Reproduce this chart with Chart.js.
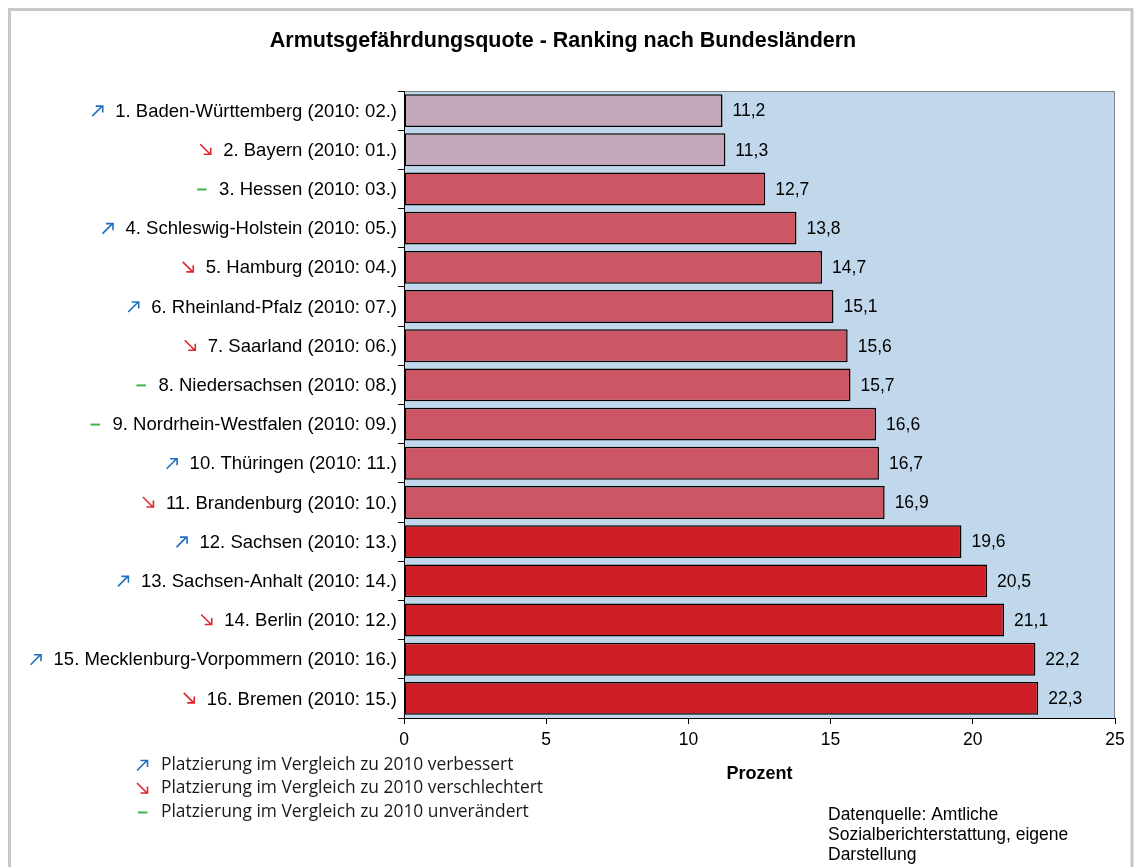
<!DOCTYPE html>
<html lang="de">
<head>
<meta charset="utf-8">
<title>Armutsgefährdungsquote - Ranking nach Bundesländern</title>
<script src="https://cdn.jsdelivr.net/npm/chart.js@4.4.1/dist/chart.umd.min.js"></script>
<style>
  html, body { margin: 0; padding: 0; background: #ffffff; }
  canvas { display: block; }
</style>
</head>
<body>
<canvas id="armutChart" width="1136" height="867"></canvas>
<script>
// Daten
const laender = [
  '1. Baden-Württemberg (2010: 02.)',
  '2. Bayern (2010: 01.)',
  '3. Hessen (2010: 03.)',
  '4. Schleswig-Holstein (2010: 05.)',
  '5. Hamburg (2010: 04.)',
  '6. Rheinland-Pfalz (2010: 07.)',
  '7. Saarland (2010: 06.)',
  '8. Niedersachsen (2010: 08.)',
  '9. Nordrhein-Westfalen (2010: 09.)',
  '10. Thüringen (2010: 11.)',
  '11. Brandenburg (2010: 10.)',
  '12. Sachsen (2010: 13.)',
  '13. Sachsen-Anhalt (2010: 14.)',
  '14. Berlin (2010: 12.)',
  '15. Mecklenburg-Vorpommern (2010: 16.)',
  '16. Bremen (2010: 15.)'
];
const quoten = [11.2, 11.3, 12.7, 13.8, 14.7, 15.1, 15.6, 15.7, 16.6, 16.7, 16.9, 19.6, 20.5, 21.1, 22.2, 22.3];
const trend = ['hoch', 'runter', 'gleich', 'hoch', 'runter', 'hoch', 'runter', 'gleich', 'gleich', 'hoch', 'runter', 'hoch', 'hoch', 'runter', 'hoch', 'runter'];
const gruppe = ['niedrig', 'niedrig', 'mittel', 'mittel', 'mittel', 'mittel', 'mittel', 'mittel', 'mittel', 'mittel', 'mittel', 'hoch', 'hoch', 'hoch', 'hoch', 'hoch'];
const xTicks = [0, 5, 10, 15, 20, 25];
const legendeTexte = [
  ['hoch', 'Platzierung im Vergleich zu 2010 verbessert'],
  ['runter', 'Platzierung im Vergleich zu 2010 verschlechtert'],
  ['gleich', 'Platzierung im Vergleich zu 2010 unverändert']
];
const quelle = ['Datenquelle: Amtliche', 'Sozialberichterstattung, eigene', 'Darstellung'];

const gruppenFarbe = { niedrig: '#c4a8b9', mittel: '#cd5665', hoch: '#ce1f27' };
const pfeilFarbe = { hoch: '#1f6fc1', runter: '#e0262d', gleich: '#3db54a' };

const textFont = '"Liberation Sans", Arial, sans-serif';

// kleiner Pfeil bzw. Strich, rechtes Ende bei x
function zeichnePfeil(ctx, art, xr, y) {
  const x = xr - 11;
  ctx.save();
  ctx.strokeStyle = pfeilFarbe[art];
  ctx.lineWidth = 1.6;
  ctx.lineCap = 'butt';
  ctx.beginPath();
  if (art === 'hoch') {
    ctx.moveTo(x, y + 5.5);
    ctx.lineTo(x + 10, y - 4.5);
    ctx.moveTo(x + 3.5, y - 4.5);
    ctx.lineTo(x + 10.5, y - 4.5);
    ctx.lineTo(x + 10.5, y + 2);
  } else if (art === 'runter') {
    ctx.moveTo(x, y - 5.5);
    ctx.lineTo(x + 10, y + 4.5);
    ctx.moveTo(x + 3.5, y + 4.5);
    ctx.lineTo(x + 10.5, y + 4.5);
    ctx.lineTo(x + 10.5, y - 2);
  } else {
    ctx.lineWidth = 2;
    ctx.moveTo(x + 1, y + 0.5);
    ctx.lineTo(x + 10.5, y + 0.5);
  }
  ctx.stroke();
  ctx.restore();
}

// Hintergrund, Rahmen und Titel
const rahmenPlugin = {
  id: 'rahmen',
  beforeDraw(chart) {
    const { ctx, chartArea: a } = chart;
    ctx.save();
    ctx.strokeStyle = '#c8c8c8';
    ctx.lineWidth = 3;
    ctx.strokeRect(9.5, 9.5, 1122.5, 900);
    ctx.fillStyle = '#c1d8ec';
    ctx.fillRect(a.left, a.top, a.right - a.left, a.bottom - a.top);
    ctx.strokeStyle = '#858585';
    ctx.lineWidth = 1;
    ctx.beginPath();
    ctx.moveTo(a.left, a.top + 0.5);
    ctx.lineTo(a.right - 0.5, a.top + 0.5);
    ctx.lineTo(a.right - 0.5, a.bottom);
    ctx.stroke();

    ctx.fillStyle = '#000';
    ctx.font = 'bold 21.5px ' + textFont;
    ctx.textAlign = 'center';
    ctx.textBaseline = 'middle';
    ctx.fillText('Armutsgefährdungsquote - Ranking nach Bundesländern', 563, 41);
    ctx.restore();
  }
};

// Kategorienbeschriftung mit Pfeilen, Werte an den Balken, Legende
const beschriftungPlugin = {
  id: 'beschriftung',
  afterDraw(chart) {
    const { ctx } = chart;
    const yScale = chart.scales.y;
    const xRight = yScale.left - 1;
    ctx.save();
    ctx.textBaseline = 'middle';

    laender.forEach((name, i) => {
      const y = yScale.getPixelForValue(i);
      ctx.font = '18.5px ' + textFont;
      ctx.fillStyle = '#000';
      ctx.textAlign = 'right';
      ctx.fillText(name, xRight, y + 1);
      const w = ctx.measureText(name).width;
      zeichnePfeil(ctx, trend[i], xRight - w - 12, y);
    });

    const meta = chart.getDatasetMeta(0);
    ctx.font = '17.5px ' + textFont;
    ctx.fillStyle = '#000';
    ctx.textAlign = 'left';
    meta.data.forEach((bar, i) => {
      ctx.fillText(quoten[i].toFixed(1).replace('.', ','), bar.x + 10, bar.y + 1);
    });

    legendeTexte.forEach(([t, text], i) => {
      const y = 765 + i * 23.5;
      zeichnePfeil(ctx, t, 148, y);
      ctx.font = '17.4px "Open Sans", sans-serif';
      ctx.fillStyle = '#1a1a1a';
      ctx.textAlign = 'left';
      ctx.fillText(text, 161, y);
    });

    ctx.font = '17.5px ' + textFont;
    ctx.fillStyle = '#000';
    quelle.forEach((zeile, i) => {
      ctx.fillText(zeile, 828, 815 + i * 20);
    });
    ctx.restore();
  }
};

const ctx = document.getElementById('armutChart').getContext('2d');
new Chart(ctx, {
  type: 'bar',
  data: {
    labels: laender,
    datasets: [{
      data: quoten,
      backgroundColor: gruppe.map(g => gruppenFarbe[g]),
      borderColor: '#000',
      borderWidth: 1.5,
      borderSkipped: false,
      barPercentage: 0.84,
      categoryPercentage: 1
    }]
  },
  options: {
    indexAxis: 'y',
    responsive: false,
    animation: false,
    layout: { padding: { left: 398, right: 21, top: 91, bottom: 82 } },
    plugins: {
      legend: { display: false },
      title: { display: false },
      tooltip: { enabled: false }
    },
    scales: {
      x: {
        min: 0,
        max: 25,
        afterBuildTicks(scale) {
          scale.ticks = xTicks.map(v => ({ value: v }));
        },
        afterFit(scale) { scale.height = 67; },
        grid: { display: true, drawOnChartArea: false, drawTicks: true, tickLength: 6, color: '#000' },
        border: { display: true, color: '#000', width: 1 },
        ticks: { color: '#000', font: { family: textFont, size: 17.5 }, padding: 6, maxRotation: 0 },
        title: {
          display: true,
          text: 'Prozent',
          color: '#000',
          font: { family: textFont, size: 18, weight: 'bold' },
          padding: 0
        }
      },
      y: {
        afterFit(scale) { scale.width = 6; },
        grid: { display: true, drawOnChartArea: false, drawTicks: true, tickLength: 6, color: '#000', offset: true },
        border: { display: true, color: '#000', width: 1 },
        ticks: { display: false }
      }
    }
  },
  plugins: [rahmenPlugin, beschriftungPlugin]
});
</script>
</body>
</html>
